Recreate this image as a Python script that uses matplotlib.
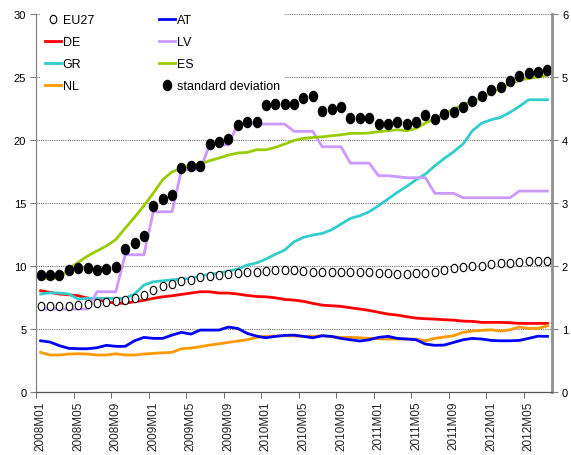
import numpy as np
import matplotlib.pyplot as plt
from matplotlib.lines import Line2D
from matplotlib.path import Path
from matplotlib.transforms import Affine2D

# monthly data 2008M01 .. 2012M07 (55 months)
tick_labels = ['2008M01', '2008M05', '2008M09', '2009M01', '2009M05', '2009M09',
               '2010M01', '2010M05', '2010M09', '2011M01', '2011M05', '2011M09',
               '2012M01', '2012M05']

eu27 = [6.85, 6.8, 6.8, 6.8, 6.9, 6.98, 7.06, 7.12, 7.2, 7.3,
        7.46, 7.7, 8.07, 8.41, 8.6, 8.81, 8.87, 9.1, 9.18, 9.29,
        9.39, 9.42, 9.5, 9.52, 9.6, 9.66, 9.66, 9.66, 9.63, 9.55,
        9.55, 9.55, 9.55, 9.55, 9.55, 9.55, 9.47, 9.47, 9.39, 9.39,
        9.47, 9.47, 9.55, 9.66, 9.82, 9.92, 10.02, 10.02, 10.13, 10.24,
        10.24, 10.32, 10.4, 10.4, 10.4]
de = [8.04, 7.91, 7.78, 7.72, 7.64, 7.46, 7.38, 7.17, 7.04, 7.06,
      7.17, 7.28, 7.44, 7.56, 7.64, 7.75, 7.86, 7.96, 7.96, 7.86,
      7.86, 7.78, 7.67, 7.59, 7.56, 7.48, 7.35, 7.3, 7.2, 7.04,
      6.9, 6.85, 6.8, 6.69, 6.59, 6.48, 6.33, 6.19, 6.11, 5.98,
      5.87, 5.82, 5.79, 5.74, 5.71, 5.63, 5.61, 5.53, 5.53, 5.53,
      5.5, 5.45, 5.45, 5.45, 5.45]
gr = [7.78, 7.88, 7.86, 7.78, 7.38, 7.44, 7.44, 7.44, 7.44, 7.44,
      7.78, 8.49, 8.75, 8.83, 8.91, 8.97, 9.02, 9.23, 9.34, 9.44,
      9.6, 9.76, 10.08, 10.24, 10.56, 10.93, 11.27, 11.93, 12.28, 12.46,
      12.59, 12.88, 13.33, 13.78, 13.99, 14.31, 14.79, 15.32, 15.85, 16.32,
      16.85, 17.3, 17.96, 18.54, 19.07, 19.68, 20.74, 21.35, 21.61, 21.8,
      22.2, 22.67, 23.2, 23.2, 23.2]
nl = [3.15, 2.94, 2.94, 3.02, 3.04, 3.02, 2.94, 2.94, 3.04, 2.94,
      2.94, 3.02, 3.07, 3.12, 3.15, 3.44, 3.49, 3.6, 3.73, 3.83,
      3.94, 4.05, 4.15, 4.34, 4.42, 4.44, 4.47, 4.45, 4.42, 4.42,
      4.47, 4.39, 4.34, 4.34, 4.31, 4.26, 4.23, 4.21, 4.21, 4.21,
      4.21, 4.07, 4.26, 4.37, 4.47, 4.74, 4.84, 4.9, 4.94, 4.84,
      4.94, 5.16, 5.05, 5.05, 5.26]
at = [4.07, 3.97, 3.68, 3.47, 3.44, 3.44, 3.52, 3.71, 3.63, 3.63,
      4.07, 4.34, 4.26, 4.26, 4.52, 4.74, 4.6, 4.92, 4.92, 4.92,
      5.16, 5.05, 4.66, 4.44, 4.31, 4.42, 4.5, 4.52, 4.42, 4.31,
      4.47, 4.42, 4.26, 4.15, 4.05, 4.15, 4.34, 4.42, 4.26, 4.21,
      4.15, 3.81, 3.71, 3.73, 3.94, 4.15, 4.26, 4.21, 4.1, 4.07,
      4.07, 4.1, 4.26, 4.44, 4.42]
lv = [6.59, 6.59, 6.59, 6.59, 6.59, 6.59, 7.96, 7.96, 7.96, 10.9,
      10.9, 10.9, 14.31, 14.31, 14.31, 17.64, 17.64, 17.64, 19.63, 19.63,
      19.63, 21.27, 21.27, 21.27, 21.27, 21.27, 21.27, 20.69, 20.69, 20.69,
      19.47, 19.47, 19.47, 18.17, 18.17, 18.17, 17.17, 17.17, 17.09, 17.01,
      17.01, 17.01, 15.77, 15.77, 15.77, 15.42, 15.42, 15.42, 15.42, 15.42,
      15.42, 15.95, 15.95, 15.95, 15.95]
es = [9.05, 9.0, 9.05, 9.8, 10.3, 10.8, 11.2, 11.6, 12.1, 13.0,
      13.87, 14.79, 15.79, 16.85, 17.48, 17.75, 17.96, 18.1, 18.36, 18.57,
      18.81, 18.97, 19.02, 19.23, 19.23, 19.42, 19.68, 19.97, 20.13, 20.21,
      20.26, 20.34, 20.42, 20.53, 20.53, 20.56, 20.66, 20.74, 20.82, 20.74,
      20.93, 21.35, 21.7, 22.1, 22.45, 22.8, 23.1, 23.35, 23.75, 24.1,
      24.45, 24.75, 24.9, 25.0, 25.15]
# right axis
std_dev = [1.86, 1.86, 1.86, 1.94, 1.97, 1.97, 1.94, 1.95, 1.99, 2.27,
           2.36, 2.48, 2.96, 3.07, 3.12, 3.55, 3.59, 3.59, 3.94, 3.97,
           4.02, 4.24, 4.28, 4.29, 4.56, 4.57, 4.58, 4.58, 4.67, 4.70,
           4.46, 4.49, 4.53, 4.35, 4.35, 4.35, 4.26, 4.26, 4.29, 4.26,
           4.29, 4.39, 4.34, 4.41, 4.45, 4.53, 4.62, 4.70, 4.79, 4.84,
           4.93, 5.02, 5.07, 5.08, 5.11]

x = np.arange(len(eu27))

plt.rcParams['font.family'] = ['Liberation Sans', 'DejaVu Sans']

fig = plt.figure(figsize=(5.71, 4.56), dpi=100)
ax = fig.add_axes([0.063, 0.138, 0.904, 0.829])
ax2 = ax.twinx()

# slightly tall ellipse markers, like the original
ell = Path.unit_circle().transformed(Affine2D().scale(0.8, 1.0))

lw = 2.0
ax.plot(x, de, color='#FF0000', lw=lw)
ax.plot(x, gr, color='#33CCCC', lw=lw)
ax.plot(x, nl, color='#FF9900', lw=lw)
ax.plot(x, at, color='#0000FF', lw=lw)
ax.plot(x, lv, color='#CC99FF', lw=lw)
ax.plot(x, es, color='#99CC00', lw=lw)
ax.plot(x, eu27, ls='none', marker=ell, ms=6, mfc='white', mec='black', mew=0.8)
ax2.plot(x, std_dev, ls='none', marker=ell, ms=7.3, mfc='black', mec='black')

ax.set_xlim(-0.5, len(x) - 0.5)
ax.set_ylim(0, 30)
ax.set_yticks(range(0, 31, 5))
ax2.set_ylim(0, 6)
ax2.set_yticks(range(0, 7))

ax.set_xticks(x[::4])
ax.set_xticklabels(tick_labels, rotation=90, fontsize=8.5, color='#222222')
ax.set_xticks(x[::4] - 0.5, minor=True)
ax.tick_params(axis='x', which='major', length=0, pad=6)
ax.tick_params(axis='x', which='minor', length=4, color='#555555')
ax.tick_params(axis='y', labelsize=8, length=4, color='#808080', pad=3)
ax2.tick_params(axis='y', labelsize=8, length=4, color='#808080', pad=3)

ax.yaxis.grid(True, color='#707070', ls=(0, (1, 1)), lw=0.8)
ax.set_axisbelow(True)

for a in (ax, ax2):
    a.spines['top'].set_visible(False)
    a.spines['left'].set_color('#808080')
    a.spines['bottom'].set_color('#555555')
    a.spines['right'].set_color('#909090')
ax2.spines['right'].set_linewidth(2)

handles = [
    Line2D([], [], ls='none', marker=ell, ms=6, mfc='white', mec='black', mew=0.8),
    Line2D([], [], color='#FF0000', lw=lw),
    Line2D([], [], color='#33CCCC', lw=lw),
    Line2D([], [], color='#FF9900', lw=lw),
    Line2D([], [], color='#0000FF', lw=lw),
    Line2D([], [], color='#CC99FF', lw=lw),
    Line2D([], [], color='#99CC00', lw=lw),
    Line2D([], [], ls='none', marker=ell, ms=7.3, mfc='black', mec='black'),
]
labels = ['EU27', 'DE', 'GR', 'NL', 'AT', 'LV', 'ES', 'standard deviation']
leg = ax2.legend(handles, labels, ncol=2, loc='upper left',
                 bbox_to_anchor=(0.007, 1.013), borderaxespad=0, borderpad=0.4,
                 handlelength=1.3, handletextpad=0.15, labelspacing=0.8,
                 columnspacing=5.2, frameon=True, fancybox=False,
                 prop={'size': 9})
leg.get_frame().set_facecolor('white')
leg.get_frame().set_edgecolor('none')
leg.get_frame().set_alpha(1)

fig.savefig('out.png', dpi=100)
